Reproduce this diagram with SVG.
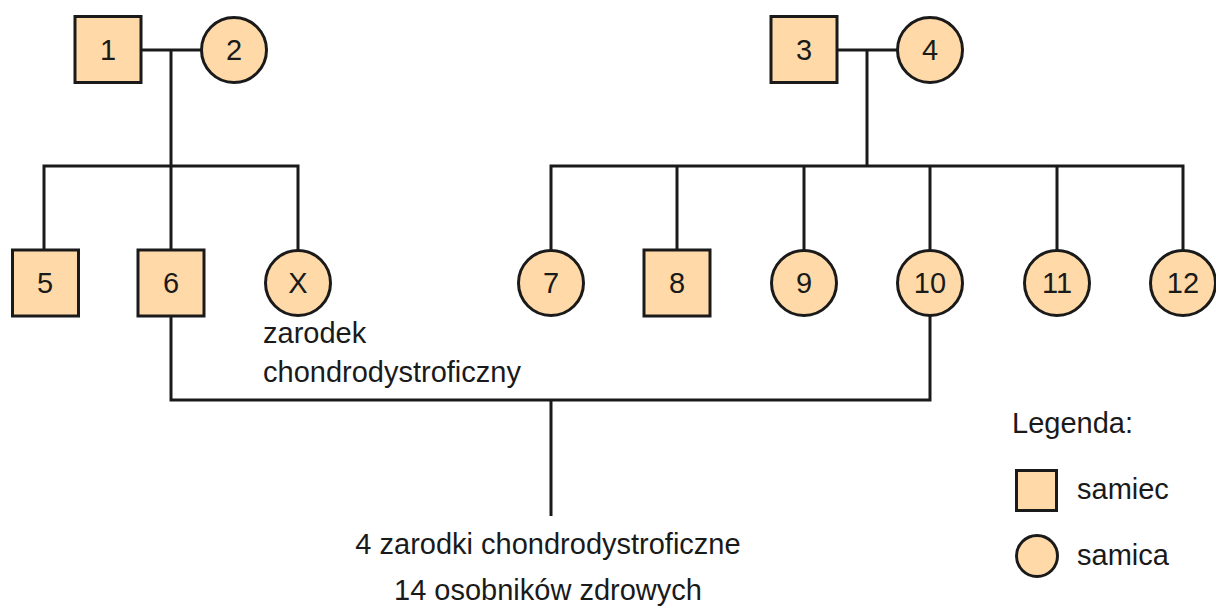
<svg xmlns="http://www.w3.org/2000/svg" width="1216" height="608" viewBox="0 0 1216 608">
<style>
.n{fill:#FFDAA8;stroke:#1a1a1a;stroke-width:3}
.l{fill:none;stroke:#1a1a1a;stroke-width:3}
text{font-family:"Liberation Sans",Arial,sans-serif;font-size:29px;fill:#1a1a1a}
.c{text-anchor:middle}
</style>
<rect width="1216" height="608" fill="#ffffff"/>
<g id="connectors" class="l">
<path d="M141 50H201.5M171 50V250"/>
<path d="M44 250V166H298V250.5"/>
<path d="M837 50H897.5M867 50V166"/>
<path d="M551 250.5V166H1183V250.5M677 166V250M804 166V250.5M930 166V250.5M1057 166V250.5"/>
<path d="M171 316V400H930V315.5M551 400V516"/>
</g>
<g id="n1"><rect class="n" x="75" y="16.5" width="66" height="66"/><text class="c" x="108" y="60">1</text></g>
<g id="n2"><circle class="n" cx="234" cy="50" r="32.5"/><text class="c" x="234" y="60">2</text></g>
<g id="n3"><rect class="n" x="771" y="16.5" width="66" height="66"/><text class="c" x="804" y="60">3</text></g>
<g id="n4"><circle class="n" cx="930" cy="50" r="32.5"/><text class="c" x="930" y="60">4</text></g>
<g id="n5"><rect class="n" x="12.5" y="250" width="66" height="66"/><text class="c" x="45" y="293">5</text></g>
<g id="n6"><rect class="n" x="138" y="250" width="66" height="66"/><text class="c" x="171" y="293">6</text></g>
<g id="nX"><circle class="n" cx="298" cy="283" r="32.5"/><text class="c" x="298" y="293">X</text>
<text x="263" y="343">zarodek</text><text x="263" y="382">chondrodystroficzny</text></g>
<g id="n7"><circle class="n" cx="551" cy="283" r="32.5"/><text class="c" x="551" y="293">7</text></g>
<g id="n8"><rect class="n" x="644" y="250" width="66" height="66"/><text class="c" x="677" y="293">8</text></g>
<g id="n9"><circle class="n" cx="804" cy="283" r="32.5"/><text class="c" x="804" y="293">9</text></g>
<g id="n10"><circle class="n" cx="930" cy="283" r="32.5"/><text class="c" x="930" y="293">10</text></g>
<g id="n11"><circle class="n" cx="1057" cy="283" r="32.5"/><text class="c" x="1057" y="293">11</text></g>
<g id="n12"><circle class="n" cx="1183" cy="283" r="32.5"/><text class="c" x="1183" y="293">12</text></g>
<g id="offspring">
<text class="c" x="548" y="554">4 zarodki chondrodystroficzne</text>
<text class="c" x="548" y="600">14 osobników zdrowych</text>
</g>
<g id="legend">
<text x="1012" y="433">Legenda:</text>
<rect class="n" x="1016.5" y="470.5" width="40" height="40"/>
<text x="1077" y="499">samiec</text>
<circle class="n" cx="1037" cy="556" r="20.5"/>
<text x="1077" y="565">samica</text>
</g>
</svg>
